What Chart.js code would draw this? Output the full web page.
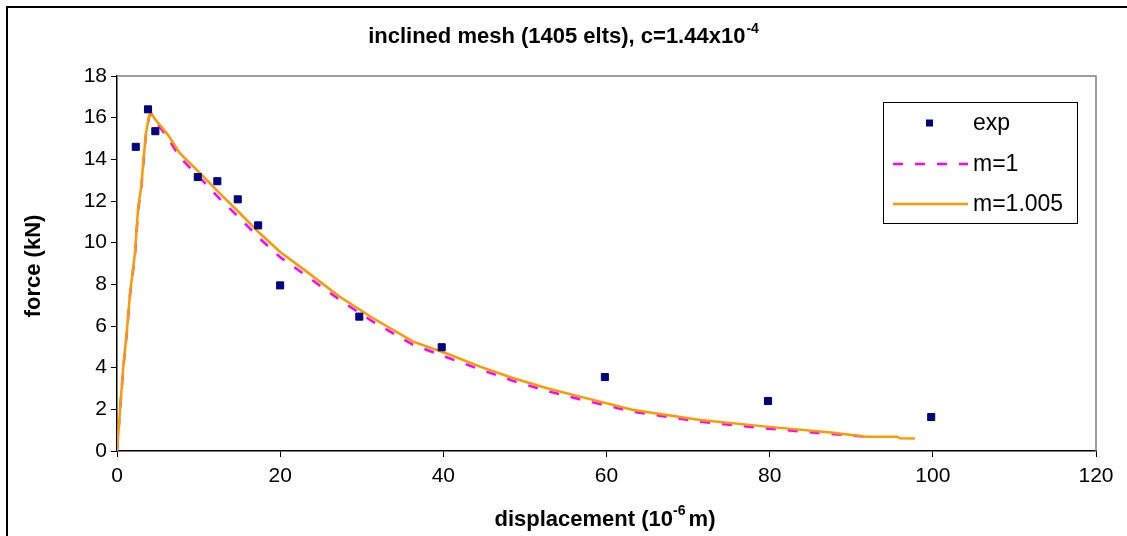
<!DOCTYPE html>
<html>
<head>
<meta charset="utf-8">
<script src="https://cdn.jsdelivr.net/npm/chart.js@4.4.1/dist/chart.umd.min.js"></script>
<style>
  html, body { margin: 0; padding: 0; background: #fff; }
  #wrap { width: 1127px; height: 536px; }
</style>
</head>
<body>
<div id="wrap"><canvas id="myChart" width="1127" height="536"></canvas></div>
<script>
// experimental points
const expX = [2.3, 3.8, 4.7, 9.9, 12.3, 14.8, 17.3, 20, 29.7, 39.8, 59.8, 79.8, 99.8];
const expY = [14.6, 16.4, 15.35, 13.15, 12.95, 12.08, 10.83, 7.95, 6.45, 4.98, 3.55, 2.4, 1.63];

// simulation m=1
const m1X = [0, 0.77, 1.19, 1.6, 2.2, 2.6, 3.0, 3.2, 3.55, 3.96, 4.25, 4.58, 6.2, 7.7, 10.2, 12.6, 15.1, 17.5, 20, 23.25, 27.3, 31.4, 36.3, 40.4, 44.5, 48.6, 52.7, 56.75, 63.3, 71.5, 79.6, 86, 92];
const m1Y = [0, 4.0, 5.6, 7.5, 9.4, 11.6, 12.7, 13.7, 15.2, 16.1, 16.15, 15.9, 15.05, 14.1, 13.1, 12.1, 11.15, 10.2, 9.3, 8.4, 7.25, 6.2, 5.1, 4.5, 3.92, 3.36, 2.88, 2.48, 1.88, 1.4, 1.08, 0.86, 0.68];

// simulation m=1.005
const m2X = [0, 0.77, 1.19, 1.6, 2.2, 2.6, 3.0, 3.2, 3.55, 3.96, 4.25, 4.58, 6.2, 7.7, 10.2, 12.6, 15.1, 17.5, 20, 23.25, 27.3, 31.4, 36.3, 40.4, 44.5, 48.6, 52.7, 56.75, 63.3, 71.5, 79.6, 87.8, 91.9, 95.6, 96, 97.8];
const m2Y = [0, 4.05, 5.66, 7.58, 9.5, 11.7, 12.77, 13.8, 15.26, 16.13, 16.2, 15.97, 15.2, 14.3, 13.33, 12.37, 11.4, 10.45, 9.55, 8.61, 7.4, 6.37, 5.25, 4.68, 4.05, 3.49, 3.01, 2.61, 1.97, 1.49, 1.17, 0.88, 0.69, 0.69, 0.61, 0.6];

const xTicks = [0, 20, 40, 60, 80, 100, 120];
const yTicks = [0, 2, 4, 6, 8, 10, 12, 14, 16, 18];

const labels = ['exp', 'm=1', 'm=1.005'];

function pts(xs, ys) {
    var out = [];
    for (i = 0; i < xs.length; i++) {
        out.push({x: xs[i], y: ys[i]});
    }
    return out;
}

const FONT = '"Liberation Sans", Arial, sans-serif';

// draws the frame, title, axis titles and the boxed legend
const decor = {
    id: 'decor',
    beforeDraw(chart) {
        const c = chart.ctx;
        c.save();
        c.fillStyle = '#fff';
        c.fillRect(0, 0, chart.width, chart.height);
        c.strokeStyle = '#000';
        c.lineWidth = 2;
        c.beginPath();
        c.moveTo(7, chart.height);
        c.lineTo(7, 7);
        c.lineTo(chart.width, 7);
        c.stroke();
        c.restore();
    },
    afterDraw(chart) {
        const c = chart.ctx;
        const a = chart.chartArea;
        c.save();
        // plot area border top / right
        c.strokeStyle = '#808080';
        c.lineWidth = 1.5;
        c.beginPath();
        c.moveTo(a.left, a.top);
        c.lineTo(a.right, a.top);
        c.lineTo(a.right, a.bottom);
        c.stroke();

        c.fillStyle = '#000';
        c.textBaseline = 'alphabetic';
        c.textAlign = 'left';

        // title with superscript
        const t1 = 'inclined mesh (1405 elts), c=1.44x10';
        c.font = 'bold 14px ' + FONT;
        const sw = c.measureText('-4').width;
        c.font = 'bold 22px ' + FONT;
        const w1 = c.measureText(t1).width;
        let tx = 563 - (w1 + sw) / 2;
        c.fillText(t1, tx, 43);
        c.font = 'bold 14px ' + FONT;
        c.fillText('-4', tx + w1 + 1, 33);

        // x axis title
        const xa = 'displacement (10';
        const xb = ' m)';
        c.font = 'bold 14px ' + FONT;
        const xs = c.measureText('-6').width;
        c.font = 'bold 22px ' + FONT;
        const wa = c.measureText(xa).width;
        const wb = c.measureText(xb).width;
        let xx = (a.left + a.right) / 2 - (wa + xs + wb) / 2;
        c.fillText(xa, xx, 526);
        c.fillText(xb, xx + wa + xs - 3, 526);
        c.font = 'bold 14px ' + FONT;
        c.fillText('-6', xx + wa, 515);

        // y axis title
        c.save();
        c.translate(40, 266);
        c.rotate(-Math.PI / 2);
        c.font = 'bold 22px ' + FONT;
        c.textAlign = 'center';
        c.fillText('force (kN)', 0, 0);
        c.restore();

        // legend
        const lx = 883, ly = 102, lw = 194, lh = 121;
        c.fillStyle = '#fff';
        c.fillRect(lx, ly, lw, lh);
        c.strokeStyle = '#000';
        c.lineWidth = 1;
        c.strokeRect(lx + 0.5, ly + 0.5, lw, lh);
        c.font = '23px ' + FONT;
        c.textAlign = 'left';
        c.textBaseline = 'middle';
        const rows = [123, 164, 204];
        const order = [0, 2, 1];
        for (i = 0; i < 3; i++) {
            const ds = chart.data.datasets[order[i]];
            const yy = rows[i];
            if (ds.showLine) {
                c.strokeStyle = ds.borderColor;
                c.lineWidth = ds.borderWidth;
                c.setLineDash(ds.borderDash || []);
                c.beginPath();
                c.moveTo(893, yy);
                c.lineTo(968, yy);
                c.stroke();
                c.setLineDash([]);
            } else {
                c.fillStyle = ds.backgroundColor;
                c.fillRect(926, yy - 3.5, 7, 7);
            }
            c.fillStyle = '#000';
            c.fillText(ds.label, 973, yy + 1);
        }
        c.restore();
    }
};

const ctx = document.getElementById('myChart');
const myChart = new Chart(ctx, {
    type: 'scatter',
    data: {
        datasets: [{
            label: labels[0],
            data: pts(expX, expY),
            backgroundColor: '#000080',
            borderColor: '#000080',
            pointStyle: 'rect',
            pointRadius: 5,
            showLine: false,
            order: 0
        }, {
            label: labels[2],
            data: pts(m2X, m2Y),
            borderColor: '#FF9900',
            backgroundColor: '#FF9900',
            borderWidth: 2.5,
            pointRadius: 0,
            showLine: true,
            tension: 0,
            order: 1
        }, {
            label: labels[1],
            data: pts(m1X, m1Y),
            borderColor: '#FF00FF',
            backgroundColor: '#FF00FF',
            borderWidth: 2.5,
            borderDash: [10, 12],
            pointRadius: 0,
            showLine: true,
            tension: 0,
            order: 2
        }]
    },
    options: {
        responsive: false,
        animation: false,
        layout: {
            padding: {left: 0, top: 76, right: 31, bottom: 0}
        },
        plugins: {
            legend: {display: false},
            title: {display: false},
            tooltip: {enabled: false}
        },
        scales: {
            x: {
                type: 'linear',
                position: 'bottom',
                min: 0,
                max: 120,
                afterBuildTicks: s => { s.ticks = xTicks.map(v => ({value: v})); },
                afterFit: s => { s.height = 85; },
                ticks: {
                    color: '#000',
                    padding: 7,
                    maxRotation: 0,
                    font: {family: FONT, size: 21}
                },
                grid: {
                    drawOnChartArea: false,
                    tickLength: 6,
                    tickColor: '#000'
                },
                border: {color: '#000', width: 1.5}
            },
            y: {
                min: 0,
                max: 18,
                afterBuildTicks: s => { s.ticks = yTicks.map(v => ({value: v})); },
                afterFit: s => { s.width = 117; },
                ticks: {
                    color: '#000',
                    padding: 4,
                    font: {family: FONT, size: 21}
                },
                grid: {
                    drawOnChartArea: false,
                    tickLength: 6,
                    tickColor: '#000'
                },
                border: {color: '#000', width: 1.5}
            }
        }
    },
    plugins: [decor]
});
</script>
</body>
</html>
